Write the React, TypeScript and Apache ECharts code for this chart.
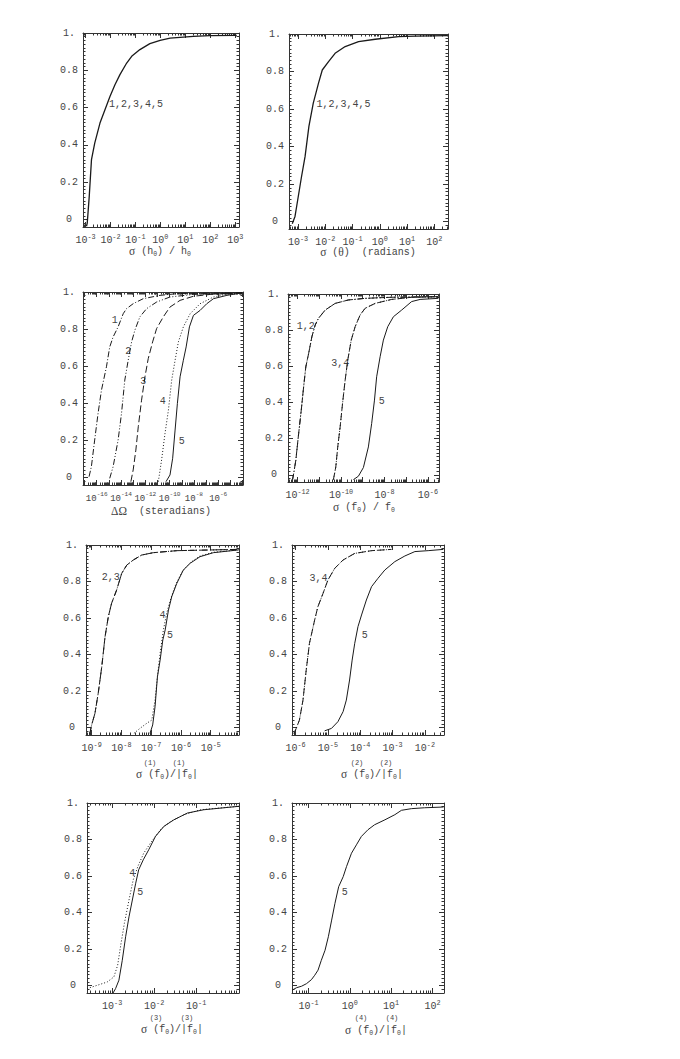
import React, { useEffect, useRef } from 'react';
import * as echarts from 'echarts';

type Pt = [number, number];

const MONO = "'Liberation Mono', 'DejaVu Sans Mono', monospace";
const SERIF = "'Liberation Serif', 'DejaVu Serif', serif";
const INK = '#1a1a1a';
const TEXT = '#444';
const FRAME = '#333';

// ---------- data: [log10 of the quantity, cumulative fraction] ----------
const hAll: Pt[] = [[-2.96,-0.036],[-2.93,-0.019],[-2.85,0.124],[-2.76,0.321],[-2.63,0.41],[-2.42,0.517],[-2.22,0.589],[-2.02,0.66],[-1.82,0.723],[-1.62,0.777],[-1.35,0.839],[-1.15,0.875],[-0.82,0.911],[-0.42,0.943],[-0.01,0.961],[0.39,0.973],[1.32,0.982],[1.99,0.986],[3.06,0.987]];
const thetaAll: Pt[] = [[-3.21,-0.012],[-3.11,0.027],[-3.05,0.08],[-2.87,0.24],[-2.74,0.347],[-2.6,0.507],[-2.44,0.631],[-2.25,0.737],[-2.11,0.808],[-1.88,0.853],[-1.64,0.897],[-1.27,0.933],[-0.78,0.959],[-0.17,0.972],[0.69,0.986],[1.3,0.989],[2.47,0.991]];

const omega1: Pt[] = [[-16.63,0.005],[-16.44,0.059],[-16.17,0.202],[-15.89,0.346],[-15.61,0.471],[-15.2,0.597],[-14.93,0.704],[-14.65,0.758],[-14.24,0.812],[-13.82,0.883],[-13.55,0.91],[-13.0,0.937],[-12.17,0.964],[-10.79,0.982],[-9.42,0.991],[-4.04,0.996]];
const omega2: Pt[] = [[-14.93,-0.004],[-14.65,0.059],[-14.24,0.202],[-13.96,0.346],[-13.69,0.525],[-13.41,0.632],[-13.13,0.731],[-12.86,0.794],[-12.45,0.866],[-11.9,0.91],[-11.07,0.946],[-9.97,0.973],[-8.04,0.987],[-4.04,0.995]];
const omega3: Pt[] = [[-13.19,-0.022],[-13.0,0.041],[-12.78,0.148],[-12.58,0.274],[-12.31,0.417],[-12.03,0.543],[-11.76,0.641],[-11.4,0.731],[-11.07,0.803],[-10.52,0.866],[-9.97,0.919],[-9.14,0.955],[-8.04,0.977],[-6.66,0.987],[-4.04,0.995]];
const omega4: Pt[] = [[-10.93,-0.022],[-10.66,0.095],[-10.38,0.238],[-10.1,0.363],[-9.83,0.525],[-9.55,0.632],[-9.28,0.731],[-8.87,0.812],[-8.31,0.883],[-7.49,0.937],[-6.39,0.973],[-5.01,0.991],[-4.04,0.996]];
const omega5: Pt[] = [[-10.3,-0.022],[-9.97,0.014],[-9.75,0.104],[-9.55,0.256],[-9.36,0.4],[-9.14,0.543],[-8.87,0.632],[-8.64,0.704],[-8.37,0.812],[-8.04,0.874],[-7.49,0.901],[-6.94,0.937],[-6.39,0.964],[-5.28,0.982],[-4.04,0.995]];

const f0_12: Pt[] = [[-12.23,-0.027],[-12.18,0.006],[-12.08,0.08],[-11.95,0.228],[-11.83,0.357],[-11.72,0.487],[-11.62,0.597],[-11.49,0.671],[-11.34,0.764],[-11.19,0.828],[-11.04,0.865],[-10.73,0.911],[-10.27,0.948],[-9.66,0.967],[-8.89,0.976],[-7.67,0.982],[-5.52,0.985]];
const f0_34: Pt[] = [[-10.35,-0.027],[-10.24,0.043],[-10.15,0.154],[-10.04,0.265],[-9.93,0.394],[-9.81,0.523],[-9.69,0.634],[-9.53,0.745],[-9.35,0.819],[-9.12,0.884],[-8.89,0.921],[-8.43,0.948],[-7.67,0.97],[-6.75,0.982],[-5.52,0.985]];
const f0_5: Pt[] = [[-9.43,-0.027],[-9.2,-0.008],[-8.97,0.04],[-8.74,0.154],[-8.59,0.283],[-8.46,0.413],[-8.36,0.542],[-8.2,0.653],[-8.05,0.745],[-7.85,0.819],[-7.59,0.874],[-7.21,0.911],[-6.75,0.958],[-6.36,0.97],[-5.52,0.976]];

const f1_23: Pt[] = [[-9.06,-0.031],[-9.0,0.015],[-8.89,0.078],[-8.78,0.188],[-8.66,0.334],[-8.55,0.498],[-8.44,0.608],[-8.33,0.681],[-8.16,0.754],[-7.99,0.845],[-7.82,0.89],[-7.6,0.918],[-7.32,0.945],[-6.93,0.958],[-6.14,0.969],[-4.07,0.976]];
const f1_4: Pt[] = [[-7.58,-0.031],[-7.38,-0.004],[-7.15,0.024],[-6.98,0.042],[-6.87,0.151],[-6.78,0.297],[-6.7,0.407],[-6.59,0.535],[-6.48,0.626],[-6.34,0.708],[-6.17,0.786],[-5.94,0.859],[-5.69,0.903],[-5.36,0.94],[-4.91,0.96],[-4.07,0.973]];
const f1_5: Pt[] = [[-7.04,-0.031],[-6.95,0.015],[-6.87,0.115],[-6.79,0.279],[-6.7,0.37],[-6.61,0.48],[-6.53,0.535],[-6.42,0.644],[-6.31,0.717],[-6.14,0.79],[-5.92,0.863],[-5.69,0.9],[-5.36,0.936],[-4.91,0.958],[-4.07,0.973]];

const f2_34: Pt[] = [[-6.05,-0.031],[-5.98,-0.004],[-5.88,0.042],[-5.77,0.151],[-5.67,0.316],[-5.57,0.462],[-5.41,0.589],[-5.31,0.662],[-5.15,0.735],[-5.0,0.808],[-4.79,0.872],[-4.53,0.918],[-4.17,0.954],[-3.65,0.969],[-3.03,0.976]];
const f2_5: Pt[] = [[-5.1,-0.017],[-4.89,-0.004],[-4.69,0.033],[-4.53,0.088],[-4.43,0.151],[-4.33,0.261],[-4.25,0.37],[-4.17,0.462],[-4.07,0.553],[-3.96,0.617],[-3.81,0.699],[-3.65,0.772],[-3.45,0.818],[-3.24,0.863],[-2.93,0.909],[-2.62,0.94],[-2.31,0.964],[-1.9,0.969],[-1.43,0.976]];

const f3_4: Pt[] = [[-3.6,-0.016],[-3.36,0.002],[-3.12,0.02],[-2.96,0.048],[-2.87,0.112],[-2.79,0.231],[-2.71,0.341],[-2.6,0.469],[-2.5,0.579],[-2.39,0.652],[-2.25,0.725],[-2.09,0.78],[-1.85,0.854],[-1.61,0.899],[-1.29,0.936],[-0.9,0.963],[0.02,0.982]];
const f3_5: Pt[] = [[-2.98,-0.04],[-2.92,-0.016],[-2.84,0.03],[-2.76,0.139],[-2.68,0.268],[-2.6,0.377],[-2.52,0.469],[-2.44,0.561],[-2.37,0.634],[-2.26,0.689],[-2.13,0.744],[-1.97,0.817],[-1.77,0.872],[-1.53,0.908],[-1.21,0.945],[-0.82,0.963],[0.02,0.982]];

const f4_5: Pt[] = [[-1.4,-0.025],[-1.29,-0.011],[-1.17,-0.003],[-1.05,0.011],[-0.93,0.033],[-0.85,0.057],[-0.77,0.085],[-0.69,0.139],[-0.6,0.194],[-0.52,0.268],[-0.44,0.359],[-0.36,0.451],[-0.27,0.542],[-0.16,0.597],[-0.08,0.652],[0.04,0.725],[0.16,0.771],[0.28,0.817],[0.44,0.854],[0.6,0.881],[0.85,0.908],[1.09,0.936],[1.25,0.96],[1.49,0.969],[1.81,0.974],[2.27,0.978]];

// ---------- tick labels (decades) ----------
const dec1 = [-3, -2, -1, 0, 1, 2, 3];
const dec2 = [-3, -2, -1, 0, 1, 2];
const dec3Ticks = [-17, -16, -15, -14, -13, -12, -11, -10, -9, -8, -7, -6, -5, -4];
const dec3Labels = [-16, -14, -12, -10, -8, -6];
const dec4Ticks = [-12, -11, -10, -9, -8, -7, -6];
const dec4Labels = [-12, -10, -8, -6];
const dec5 = [-9, -8, -7, -6, -5];
const dec6 = [-6, -5, -4, -3, -2];
const dec7 = [-3, -2, -1];
const dec8 = [-1, 0, 1, 2];
const yTickValues = [0, 0.2, 0.4, 0.6, 0.8, 1.0];

// curve tags
const tags1 = [{ at: [-0.98, 0.616], text: '1,2,3,4,5' }];
const tags2 = [{ at: [-1.33, 0.622], text: '1,2,3,4,5' }];
const tags3 = [
  { at: [-14.51, 0.848], text: '1' },
  { at: [-13.41, 0.677], text: '2' },
  { at: [-12.17, 0.52], text: '3' },
  { at: [-10.57, 0.408], text: '4' },
  { at: [-9.0, 0.193], text: '5' },
];
const tags4 = [
  { at: [-11.62, 0.819], text: '1,2' },
  { at: [-10.04, 0.616], text: '3,4' },
  { at: [-8.13, 0.403], text: '5' },
];
const tags5 = [
  { at: [-8.36, 0.823], text: '2,3' },
  { at: [-6.62, 0.613], text: '4' },
  { at: [-6.37, 0.507], text: '5' },
];
const tags6 = [
  { at: [-5.29, 0.817], text: '3,4' },
  { at: [-3.86, 0.507], text: '5' },
];
const tags7 = [
  { at: [-2.52, 0.615], text: '4' },
  { at: [-2.33, 0.509], text: '5' },
];
const tags8 = [{ at: [-0.12, 0.509], text: '5' }];

const SOLID: any = 'solid';
const DASH_DOT = [6, 2, 1, 2];
const DASH_DOT_DOT = [6, 2, 1, 2, 1, 2];
const DASHED = [7, 3];
const DOTTED = [1, 2];

const Y_MIN = -0.04;
const Y_MAX = 1.0;

const panels = [
  { box: [83, 33, 156, 194], x: [-3.1, 3.15], ticks: dec1, labels: dec1, tags: tags1, lf: 10,
    curves: [{ data: hAll, dash: SOLID, w: 1.3 }] },
  { box: [289, 34, 159, 195], x: [-3.33, 2.5], ticks: dec2, labels: dec2, tags: tags2, lf: 10,
    curves: [{ data: thetaAll, dash: SOLID, w: 1.3 }] },
  { box: [83, 292, 160, 193], x: [-17.13, -3.96], ticks: dec3Ticks, labels: dec3Labels, tags: tags3, lf: 9,
    curves: [
      { data: omega1, dash: DASH_DOT, w: 1 },
      { data: omega2, dash: DASH_DOT_DOT, w: 1 },
      { data: omega3, dash: DASHED, w: 1 },
      { data: omega4, dash: DOTTED, w: 1 },
      { data: omega5, dash: SOLID, w: 1 },
    ] },
  { box: [288, 294, 151, 188], x: [-12.44, -5.49], ticks: dec4Ticks, labels: dec4Labels, tags: tags4, lf: 10,
    curves: [
      { data: f0_12, dash: DASH_DOT, w: 1 },
      { data: f0_12, dash: DASH_DOT_DOT, w: 1 },
      { data: f0_34, dash: DASHED, w: 1 },
      { data: f0_34, dash: DOTTED, w: 1 },
      { data: f0_5, dash: SOLID, w: 1 },
    ] },
  { box: [86, 545, 153, 190], x: [-9.19, -4.05], ticks: dec5, labels: dec5, tags: tags5, lf: 10,
    curves: [
      { data: f1_23, dash: DASH_DOT_DOT, w: 1 },
      { data: f1_23, dash: DASHED, w: 1 },
      { data: f1_4, dash: DOTTED, w: 1 },
      { data: f1_5, dash: SOLID, w: 1 },
    ] },
  { box: [292, 545, 152, 190], x: [-6.11, -1.41], ticks: dec6, labels: dec6, tags: tags6, lf: 10,
    curves: [
      { data: f2_34, dash: DASHED, w: 1 },
      { data: f2_34, dash: DOTTED, w: 1 },
      { data: f2_5, dash: SOLID, w: 1 },
    ] },
  { box: [87, 803, 152, 190], x: [-3.6, 0.02], ticks: dec7, labels: dec7, tags: tags7, lf: 10,
    curves: [
      { data: f3_4, dash: DOTTED, w: 1 },
      { data: f3_5, dash: SOLID, w: 1 },
    ] },
  { box: [292, 803, 152, 190], x: [-1.4, 2.28], ticks: dec8, labels: dec8, tags: tags8, lf: 10,
    curves: [{ data: f4_5, dash: SOLID, w: 1 }] },
];

// axis titles
const titles = [
  { x: 160, y: 251, text: '{g|σ} (h{sub|0}) / h{sub|0}' },
  { x: 368, y: 252, text: '{g|σ} ({g|θ})  (radians)' },
  { x: 161, y: 511, text: '{g|ΔΩ}  (steradians)' },
  { x: 364, y: 507, text: '{g|σ} (f{sub|0}) / f{sub|0}' },
  { x: 167, y: 774, text: '{g|σ} (f{sub|0})/|f{sub|0}|' },
  { x: 372, y: 774, text: '{g|σ} (f{sub|0})/|f{sub|0}|' },
  { x: 172, y: 1029, text: '{g|σ} (f{sub|0})/|f{sub|0}|' },
  { x: 376, y: 1030, text: '{g|σ} (f{sub|0})/|f{sub|0}|' },
];
const orders = [
  { x: 150, y: 763, text: '(1)' }, { x: 179, y: 763, text: '(1)' },
  { x: 357, y: 763, text: '(2)' }, { x: 386, y: 763, text: '(2)' },
  { x: 156, y: 1018, text: '(3)' }, { x: 187, y: 1018, text: '(3)' },
  { x: 361, y: 1018, text: '(4)' }, { x: 392, y: 1018, text: '(4)' },
];

function buildOption() {
  const grid: any[] = [];
  const xAxis: any[] = [];
  const yAxis: any[] = [];
  const series: any[] = [];
  const graphic: any[] = [];

  const tickLine = { color: FRAME, width: 1 };
  const makeRich = (f: number) => ({
    b: { fontFamily: MONO, fontSize: f, lineHeight: 15, color: TEXT },
    s: { fontFamily: MONO, fontSize: f * 0.68, lineHeight: 8, verticalAlign: 'top', color: TEXT },
  });

  const yMinor: number[] = [];
  for (let i = -1; i < 50; i++) {
    if (i % 10 !== 0) yMinor.push(Math.round(i * 0.02 * 1000) / 1000);
  }

  panels.forEach((p, i) => {
    const [left, top, width, height] = p.box;
    grid.push({ left, top, width, height, containLabel: false });
    const [xMin, xMax] = p.x;
    const xMinor: number[] = [];
    for (let n = Math.floor(xMin); n <= Math.ceil(xMax); n++) {
      for (let k = 2; k <= 9; k++) {
        const v = n + Math.log10(k);
        if (v > xMin && v < xMax) xMinor.push(v);
      }
    }
    const xBase = { gridIndex: i, type: 'value', min: xMin, max: xMax, splitLine: { show: false } };
    const frameLine = { show: true, onZero: false, lineStyle: { color: FRAME, width: 1 } };
    const noLine = { show: false, onZero: false };
    xAxis.push({
      ...xBase, position: 'bottom', axisLine: frameLine,
      axisTick: { show: true, inside: true, length: 5, customValues: p.ticks, lineStyle: tickLine },
      axisLabel: {
        show: true, customValues: p.labels, margin: 6, rich: makeRich(p.lf),
        showMinLabel: true, showMaxLabel: true, hideOverlap: false,
        formatter: (v: number) => `{b|10}{s|${Math.round(v)}}`,
      },
    });
    xAxis.push({
      ...xBase, position: 'bottom', axisLine: noLine,
      axisTick: { show: true, inside: true, length: 2.5, customValues: xMinor, lineStyle: tickLine },
      axisLabel: { show: false },
    });
    xAxis.push({
      ...xBase, position: 'top', axisLine: frameLine,
      axisTick: { show: true, inside: true, length: 5, customValues: p.ticks, lineStyle: tickLine },
      axisLabel: { show: false },
    });
    xAxis.push({
      ...xBase, position: 'top', axisLine: noLine,
      axisTick: { show: true, inside: true, length: 2.5, customValues: xMinor, lineStyle: tickLine },
      axisLabel: { show: false },
    });

    const yBase = { gridIndex: i, type: 'value', min: Y_MIN, max: Y_MAX, splitLine: { show: false } };
    yAxis.push({
      ...yBase, position: 'left', axisLine: frameLine,
      axisTick: { show: true, inside: true, length: 5, customValues: yTickValues, lineStyle: tickLine },
      axisLabel: {
        show: true, customValues: yTickValues, margin: 14, align: 'center',
        fontFamily: MONO, fontSize: 10, color: TEXT,
        showMinLabel: true, showMaxLabel: true,
        formatter: (v: number) => (Math.abs(v - 1) < 1e-9 ? '1.' : Math.abs(v) < 1e-9 ? '0' : v.toFixed(1)),
      },
    });
    yAxis.push({
      ...yBase, position: 'left', axisLine: noLine,
      axisTick: { show: true, inside: true, length: 2.5, customValues: yMinor, lineStyle: tickLine },
      axisLabel: { show: false },
    });
    yAxis.push({
      ...yBase, position: 'right', axisLine: frameLine,
      axisTick: { show: true, inside: true, length: 5, customValues: yTickValues, lineStyle: tickLine },
      axisLabel: { show: false },
    });
    yAxis.push({
      ...yBase, position: 'right', axisLine: noLine,
      axisTick: { show: true, inside: true, length: 2.5, customValues: yMinor, lineStyle: tickLine },
      axisLabel: { show: false },
    });

    p.curves.forEach((c) => {
      series.push({
        type: 'line', xAxisIndex: i * 4, yAxisIndex: i * 4, data: c.data,
        showSymbol: false, symbol: 'none', silent: true,
        lineStyle: { color: INK, width: c.w, type: c.dash },
      });
    });
    series.push({
      type: 'scatter', xAxisIndex: i * 4, yAxisIndex: i * 4,
      data: p.tags.map((t) => [t.at[0], t.at[1], t.text]),
      symbolSize: 1, itemStyle: { color: 'rgba(0,0,0,0)' }, silent: true,
      label: {
        show: true, position: 'inside', formatter: (q: any) => q.data[2],
        fontFamily: MONO, fontSize: 10, color: TEXT, opacity: 1,
      },
    });
  });

  const titleRich = {
    g: { fontFamily: SERIF, fontSize: 11.5, fill: TEXT, color: TEXT },
    sub: { fontFamily: MONO, fontSize: 6.5, lineHeight: 7, verticalAlign: 'bottom', fill: TEXT, color: TEXT },
  };
  titles.forEach((t) => {
    graphic.push({
      type: 'text', x: t.x, y: t.y, silent: true,
      style: {
        text: t.text, rich: titleRich, fontFamily: MONO, fontSize: 10, lineHeight: 13,
        fill: TEXT, align: 'center', verticalAlign: 'middle',
      },
    });
  });
  orders.forEach((t) => {
    graphic.push({
      type: 'text', x: t.x, y: t.y, silent: true,
      style: { text: t.text, fontFamily: MONO, fontSize: 7, fill: TEXT, align: 'center', verticalAlign: 'middle' },
    });
  });

  return {
    animation: false,
    backgroundColor: '#ffffff',
    textStyle: { fontFamily: MONO },
    grid, xAxis, yAxis, series, graphic,
  };
}

export default function App() {
  const ref = useRef<HTMLDivElement>(null);
  useEffect(() => {
    if (!ref.current) return;
    const chart = echarts.init(ref.current, null, { renderer: 'svg' });
    chart.setOption(buildOption() as any);
    return () => chart.dispose();
  }, []);
  return (
    <div
      ref={ref}
      style={{ position: 'absolute', left: 0, top: 0, width: 680, height: 1059, background: '#fff' }}
    />
  );
}
